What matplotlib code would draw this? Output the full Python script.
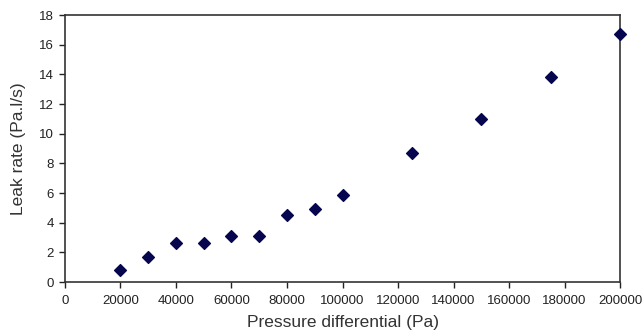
import matplotlib
matplotlib.use("Agg")
import matplotlib.pyplot as plt

pressure = [20000, 30000, 40000, 50000, 60000, 70000, 80000, 90000, 100000, 125000, 150000, 175000, 200000]
leak_rate = [0.8, 1.7, 2.65, 2.65, 3.1, 3.1, 4.5, 4.9, 5.9, 8.7, 11.0, 13.8, 16.7]

plt.rcParams['font.family'] = ['Liberation Sans', 'DejaVu Sans']

fig = plt.figure(figsize=(6.42, 3.35), dpi=100)
ax = fig.add_axes([0.101, 0.158, 0.865, 0.797])
ax.scatter(pressure, leak_rate, marker='D', s=36, color='#06064e', zorder=3, clip_on=False)
ax.set_xlim(0, 200000)
ax.set_ylim(0, 18)
ax.set_xticks(range(0, 200001, 20000))
ax.set_yticks(range(0, 19, 2))
ax.tick_params(direction='out', length=4, width=1, labelsize=9.5, colors='#222222')
ax.tick_params(axis='x', pad=5)
ax.tick_params(axis='y', pad=4)
for s in ax.spines.values():
    s.set_linewidth(1.2)
    s.set_color('#333333')
ax.set_xlabel('Pressure differential (Pa)', fontsize=12.5, color='#333333', labelpad=6)
ax.set_ylabel('Leak rate (Pa.l/s)', fontsize=12.5, color='#333333', labelpad=9)
fig.savefig('out.png', dpi=100)
